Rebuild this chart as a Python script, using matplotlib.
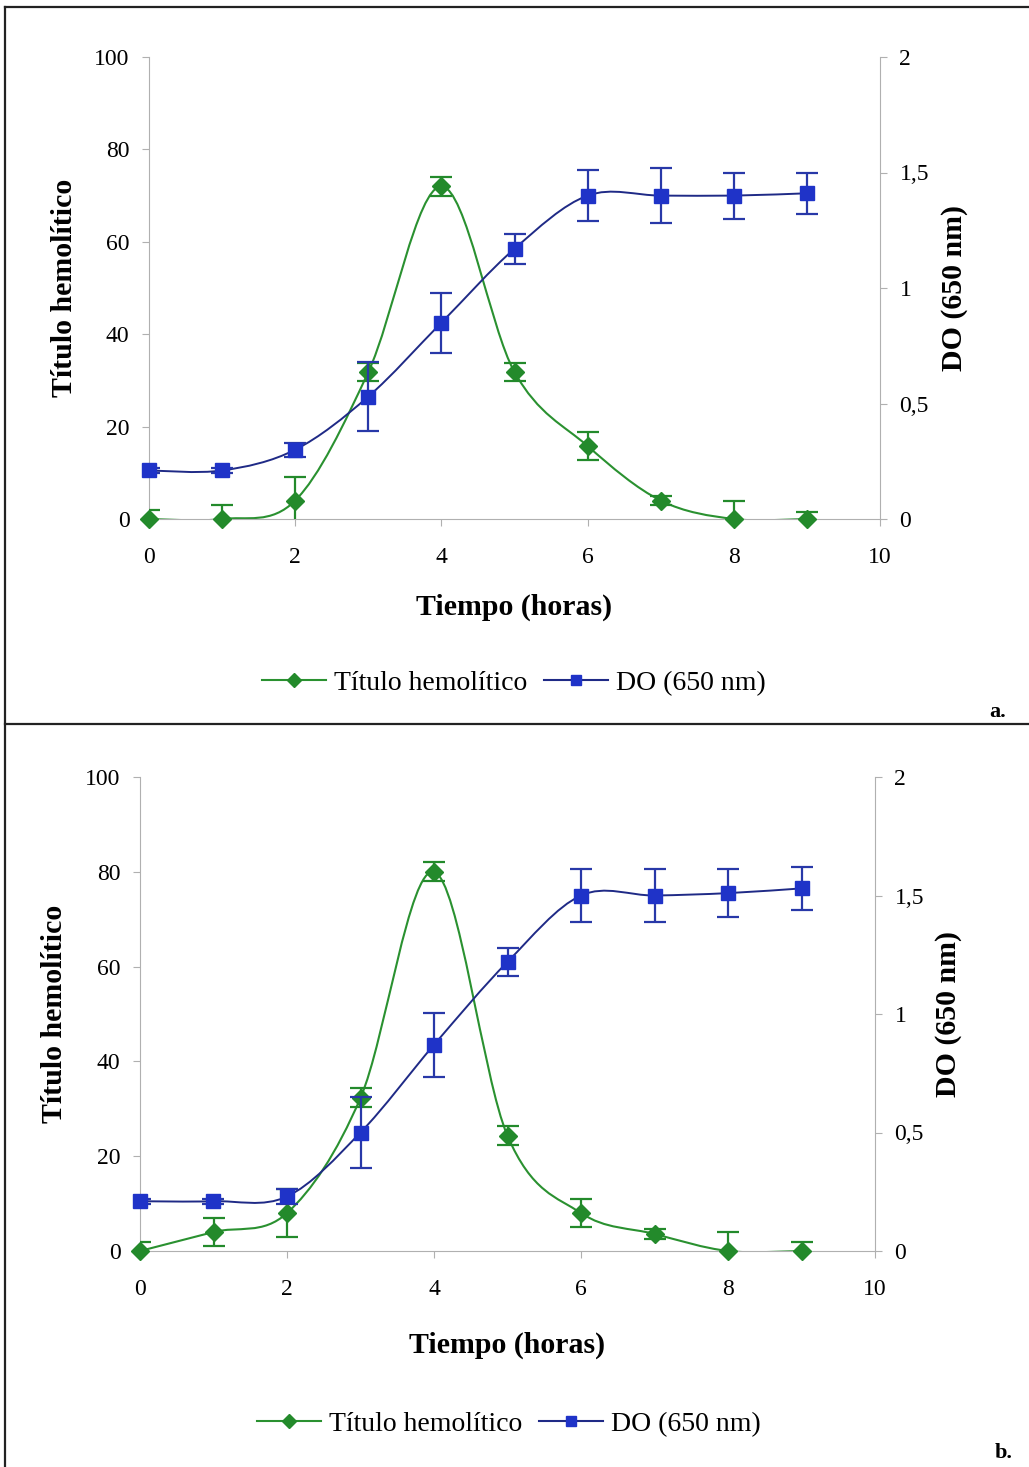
import numpy as np
import matplotlib.pyplot as plt
from matplotlib.path import Path
from matplotlib.patches import PathPatch
from matplotlib.lines import Line2D

plt.rcParams['font.family'] = ['Liberation Serif', 'DejaVu Serif']

W, H = 1029, 1467

horas = [0, 1, 2, 3, 4, 5, 6, 7, 8, 9]

# panel a
titulo_a = [0, 0, 4, 31.8, 72, 31.8, 15.8, 4, 0, 0]
titulo_a_err = [2, 3, 5, 2, 2, 2, 3, 1, 4, 1.5]
do_a = [0.21, 0.21, 0.30, 0.53, 0.85, 1.17, 1.40, 1.40, 1.40, 1.41]
do_a_err = [0.01, 0.01, 0.03, 0.15, 0.13, 0.065, 0.11, 0.12, 0.10, 0.09]

# panel b
titulo_b = [0, 4, 8, 32.3, 80, 24.3, 8, 3.6, 0, 0]
titulo_b_err = [2, 3, 5, 2, 2, 2, 3, 1, 4, 2]
do_b = [0.21, 0.21, 0.23, 0.50, 0.87, 1.22, 1.50, 1.50, 1.51, 1.53]
do_b_err = [0.01, 0.01, 0.03, 0.15, 0.135, 0.06, 0.11, 0.11, 0.10, 0.09]

x_ticks = [0, 2, 4, 6, 8, 10]
left_ticks = [0, 20, 40, 60, 80, 100]
right_ticks = [0, 0.5, 1, 1.5, 2]
right_labels = ['0', '0,5', '1', '1,5', '2']

GREEN = '#2a9130'
GREEN_MK = '#238a2b'
BLUE_LINE = '#1f2a86'
BLUE_MK = '#1f33c8'
BLUE_ERR = '#2838a8'
SPINE = '#b0b0b0'


def smooth_path(x, y):
    """Curva suavizada (bezier tipo Excel) que pasa por todos los puntos"""
    x = np.asarray(x, float)
    y = np.asarray(y, float)
    n = len(x)
    px = np.concatenate([[x[0]], x, [x[-1]]])
    py = np.concatenate([[y[0]], y, [y[-1]]])
    verts = [(x[0], y[0])]
    codes = [Path.MOVETO]
    for i in range(n - 1):
        j = i + 1
        c1 = (px[j] + (px[j + 1] - px[j - 1]) / 6, py[j] + (py[j + 1] - py[j - 1]) / 6)
        c2 = (px[j + 1] - (px[j + 2] - px[j]) / 6, py[j + 1] - (py[j + 2] - py[j]) / 6)
        verts += [c1, c2, (x[i + 1], y[i + 1])]
        codes += [Path.CURVE4] * 3
    return Path(verts, codes)


def fx(px):
    return px / W


def fy(py):
    return 1 - py / H


def panel(fig, box, titulo, titulo_err, do, do_err, xlab_y, leg_xy):
    left, right, bottom, top = box
    ax = fig.add_axes([fx(left), fy(bottom), fx(right) - fx(left), fy(top) - fy(bottom)])
    ax2 = ax.twinx()

    ax.set_xlim(0, 10)
    ax.set_ylim(0, 100)
    ax2.set_ylim(0, 2)

    for a in (ax, ax2):
        a.patch.set_visible(False)
        a.spines['top'].set_visible(False)
        for s in ('left', 'right', 'bottom'):
            a.spines[s].set_color(SPINE)
            a.spines[s].set_linewidth(0.8)
    ax.spines['right'].set_visible(False)
    ax2.spines['left'].set_visible(False)
    ax2.spines['bottom'].set_visible(False)

    ax.set_xticks(x_ticks)
    ax.set_yticks(left_ticks)
    ax2.set_yticks(right_ticks)
    ax2.set_yticklabels(right_labels)
    ax.tick_params(axis='both', colors=SPINE, labelcolor='black', labelsize=17,
                   length=5, width=0.8, direction='out')
    ax.tick_params(axis='x', pad=15)
    ax.tick_params(axis='y', pad=9)
    ax2.tick_params(axis='y', colors=SPINE, labelcolor='black', labelsize=17,
                    length=5, width=0.8, direction='out', pad=9)

    # Título hemolítico (eje izquierdo)
    ax.add_patch(PathPatch(smooth_path(horas, titulo), fill=False, edgecolor=GREEN,
                           linewidth=1.5, zorder=2))
    ax.errorbar(horas, titulo, yerr=titulo_err, fmt='none', ecolor=GREEN_MK,
                elinewidth=1.6, capsize=8, capthick=1.6, zorder=3)
    ax.plot(horas, titulo, linestyle='none', marker='D', markersize=9,
            color=GREEN_MK, zorder=4, clip_on=False)

    # DO (eje derecho)
    ax2.add_patch(PathPatch(smooth_path(horas, do), fill=False, edgecolor=BLUE_LINE,
                            linewidth=1.4, zorder=2))
    ax2.errorbar(horas, do, yerr=do_err, fmt='none', ecolor=BLUE_ERR,
                 elinewidth=1.6, capsize=8, capthick=1.6, zorder=3)
    ax2.plot(horas, do, linestyle='none', marker='s', markersize=10,
             color=BLUE_MK, zorder=4, clip_on=False)

    cx = (left + right) / 2
    fig.text(fx(left - 85), fy((top + bottom) / 2), 'Título hemolítico', rotation=90,
             ha='center', va='center', fontsize=21.5, fontweight='bold')
    fig.text(fx(right + 74), fy((top + bottom) / 2), 'DO (650 nm)', rotation=90,
             ha='center', va='center', fontsize=21.5, fontweight='bold')
    fig.text(fx(cx), fy(xlab_y), 'Tiempo (horas)', ha='center', va='center',
             fontsize=21.5, fontweight='bold')

    handles = [Line2D([], [], color=GREEN, linewidth=1.5, marker='D', markersize=7,
                      markerfacecolor=GREEN_MK, markeredgecolor=GREEN_MK),
               Line2D([], [], color=BLUE_LINE, linewidth=1.5, marker='s', markersize=7,
                      markerfacecolor=BLUE_MK, markeredgecolor=BLUE_MK)]
    fig.legend(handles, ['Título hemolítico', 'DO (650 nm)'], loc='center',
               bbox_to_anchor=(fx(leg_xy[0]), fy(leg_xy[1])), ncol=2, frameon=False,
               fontsize=20, handlelength=2.3, handletextpad=0.3, columnspacing=0.6)
    return ax, ax2


fig = plt.figure(figsize=(W / 100, H / 100), dpi=100)

panel(fig, (149, 880, 519, 57), titulo_a, titulo_a_err, do_a, do_a_err, 607, (514, 683))
panel(fig, (140, 875, 1251, 777), titulo_b, titulo_b_err, do_b, do_b_err, 1345, (509, 1424))

fig.text(fx(998), fy(712), 'a.', ha='center', va='center', fontsize=16, fontweight='bold')
fig.text(fx(1004), fy(1453), 'b.', ha='center', va='center', fontsize=16, fontweight='bold')

# marcos de los paneles
for xs, ys in [((5, W), (7, 7)), ((5, 5), (7, H)), ((5, W), (724, 724))]:
    fig.add_artist(Line2D([fx(xs[0]), fx(xs[1])], [fy(ys[0]), fy(ys[1])],
                          color='#222222', linewidth=1.6))

fig.savefig('out.png', dpi=100)
